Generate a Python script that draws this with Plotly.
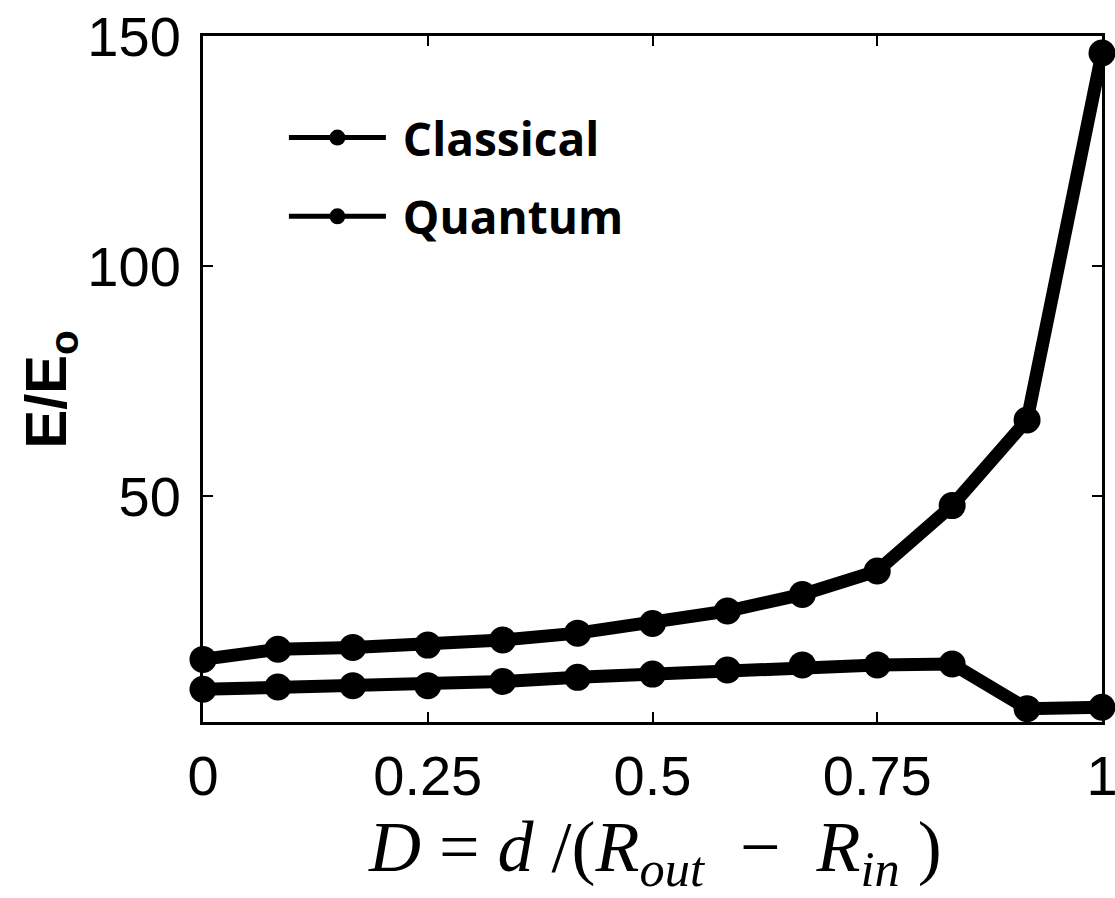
import plotly.graph_objects as go

x_vals = [0, 1/12, 2/12, 3/12, 4/12, 5/12, 6/12, 7/12, 8/12, 9/12, 10/12, 11/12, 1]
classical = [14.6, 16.8, 17.2, 17.7, 18.8, 20.3, 22.4, 25.1, 28.7, 33.8, 48.0, 66.6, 146.3]
quantum = [8.1, 8.6, 8.9, 8.9, 9.8, 10.7, 11.4, 12.3, 13.4, 13.4, 13.6, 3.9, 4.2]
series_names = ["Classical", "Quantum"]
x_ticks = [0, 0.25, 0.5, 0.75, 1]
x_tick_text = ["0", "0.25", "0.5", "0.75", "1"]
y_ticks = [50, 100, 150]

fig = go.Figure()
for name, ys in zip(series_names, [classical, quantum]):
    fig.add_trace(go.Scatter(
        x=x_vals, y=ys, mode="lines+markers", name=name, showlegend=False,
        line=dict(color="black", width=13),
        marker=dict(color="black", size=27),
        cliponaxis=False,
    ))
for i, name in enumerate(series_names):
    fig.add_trace(go.Scatter(
        x=[None], y=[None], mode="lines+markers", name="\u00a0" + name,
        legendgroup=f"g{i}",
        line=dict(color="black", width=5),
        marker=dict(color="black", size=18),
    ))

tick_font = dict(family="Liberation Sans, Arial", size=56, color="black")
axis_common = dict(
    showline=True, linecolor="black", linewidth=3, mirror="ticks",
    ticks="inside", ticklen=10, tickwidth=2, tickcolor="black",
    showgrid=False, zeroline=False, automargin=False,
    tickfont=tick_font,
)

fig.update_layout(
    width=1115, height=898,
    margin=dict(l=203, r=13, t=36, b=176),
    paper_bgcolor="white", plot_bgcolor="white",
    xaxis=dict(range=[0, 1], tickvals=x_ticks, ticktext=x_tick_text,
               ticklabelstandoff=3, ticklabeloverflow="allow",
               **axis_common),
    yaxis=dict(range=[1, 150], tickvals=y_ticks,
               ticklabelstandoff=8,
               **axis_common),
    showlegend=True,
    legend=dict(x=0.09, y=0.905, xanchor="left", yanchor="top",
                bgcolor="rgba(0,0,0,0)", itemwidth=97, tracegroupgap=16,
                traceorder="grouped",
                font=dict(family="Open Sans", size=46, color="black", weight="bold")),
)

fig.add_annotation(
    text="<i>D</i>\u00a0=\u00a0<i>d</i>\u00a0/(<i>R</i><sub><i>out</i></sub>\u00a0\u00a0−\u00a0\u00a0<i>R</i><sub><i>in</i></sub>\u00a0)",
    xref="paper", yref="paper", x=0.503, y=-0.19, xanchor="center", yanchor="middle",
    showarrow=False,
    font=dict(family="Liberation Serif, Times New Roman", size=72, color="black"),
)
fig.add_annotation(
    text="<b>E/E<sub>o</sub></b>",
    xref="paper", yref="paper", x=-0.170, y=0.485, xanchor="center", yanchor="middle",
    textangle=-90, showarrow=False,
    font=dict(family="Liberation Sans, Arial", size=58, color="black"),
)

fig.write_html("out.html")
